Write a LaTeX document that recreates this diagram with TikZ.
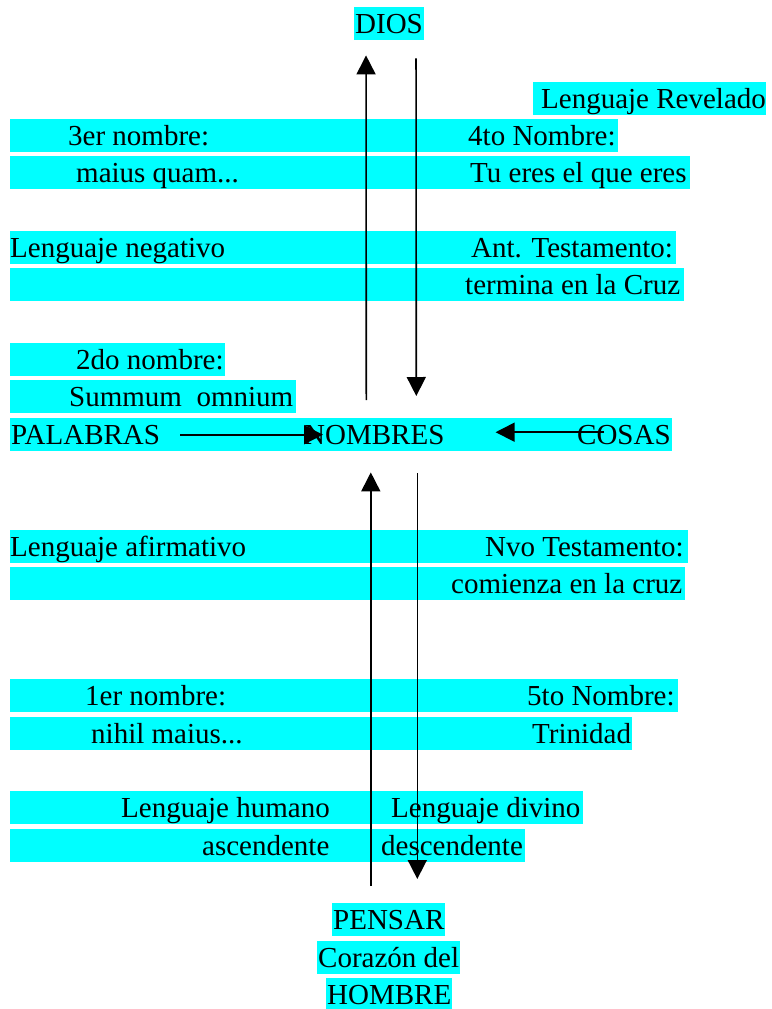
\documentclass[tikz,border=0pt]{standalone}
\usepackage{fontspec}
\setmainfont{Liberation Serif}
\usepackage{tikz}
\usetikzlibrary{arrows.meta}
\definecolor{hl}{RGB}{0,255,255}

\begin{document}
\begin{tikzpicture}[
  x=1pt, y=-1pt,
  font=\fontsize{29pt}{33pt}\selectfont,
  bx/.style ={fill=hl, inner sep=0pt, minimum height=33pt, anchor=north west},
  tx/.style ={inner sep=0pt, text height=26pt, text depth=7pt, anchor=north west},
  tb/.style ={tx, fill=hl, inner xsep=1pt},
  ar/.style ={-{Triangle[length=19pt,width=19pt]}, line width=1.6pt},
]
\useasboundingbox (0,0) rectangle (771,1009);

% ---- cyan bands ----
\node[bx, minimum width=233pt] (rev)   at (533, 82) {};
\node[bx, minimum width=608pt] (row1)  at (10,119) {};
\node[bx, minimum width=680pt] (row2)  at (10,156) {};
\node[bx, minimum width=666pt] (row3)  at (10,231) {};
\node[bx, minimum width=674pt] (row4)  at (10,268) {};
\node[bx, minimum width=215pt] (row5)  at (10,343) {};
\node[bx, minimum width=286pt] (row6)  at (10,380) {};
\node[bx, minimum width=662pt] (row7)  at (10,418) {};
\node[bx, minimum width=678pt] (row8)  at (10,530) {};
\node[bx, minimum width=675pt] (row9)  at (10,567) {};
\node[bx, minimum width=668pt] (row10) at (10,679) {};
\node[bx, minimum width=622pt] (row11) at (10,717) {};
\node[bx, minimum width=573pt] (row12) at (10,791) {};
\node[bx, minimum width=515pt] (row13) at (10,829) {};

% ---- top / bottom ----
\node[tb] (dios)    at (354,  7) {DIOS};
\node[tb] (pensar)  at (332,903) {PENSAR};
\node[tb] (corazon) at (317,941) {Corazón del};
\node[tb] (hombre)  at (326,978) {HOMBRE};

% ---- upper half ----
\node[tx] (revel)    at (541, 82) {Lenguaje Revelado};
\node[tx] (n3)       at ( 68,119) {3er nombre:};
\node[tx] (n4)       at (468,119) {4to Nombre:};
\node[tx] (maius)    at ( 76,156) {maius quam...};
\node[tx] (tueres)   at (470,156) {Tu eres el que eres};
\node[tx] (neg)      at ( 10,231) {Lenguaje negativo};
\node[tx] (ant)      at (471,231) {Ant. Testamento:};
\node[tx] (termina)  at (465,268) {termina en la Cruz};
\node[tx] (n2)       at ( 76,343) {2do nombre:};
\node[tx] (summum)   at ( 69,380) {Summum\ \ omnium};

% ---- middle ----
\node[tx] (palabras) at ( 11,418) {PALABRAS};
\node[tx] (nombres)  at (304,418) {NOMBRES};
\node[tx] (cosas)    at (577,418) {COSAS};

% ---- lower half ----
\node[tx] (afirm)    at ( 10,530) {Lenguaje afirmativo};
\node[tx] (nvo)      at (485,530) {Nvo Testamento:};
\node[tx] (comienza) at (451,567) {comienza en la cruz};
\node[tx] (n1)       at ( 85,679) {1er nombre:};
\node[tx] (n5)       at (527,679) {5to Nombre:};
\node[tx] (nihil)    at ( 91,717) {nihil maius...};
\node[tx] (trin)     at (532,717) {Trinidad};
\node[tx] (humano)   at (121,791) {Lenguaje humano};
\node[tx] (divino)   at (391,791) {Lenguaje divino};
\node[tx] (asc)      at (202,829) {ascendente};
\node[tx] (desc)     at (381,829) {descendente};

% ---- arrows ----
\draw[ar] ([xshift=-8pt,yshift=18pt]nombres.north) -- ([xshift=-23pt,yshift=-15pt]dios.south);
\draw[ar] ([xshift=27pt,yshift=-18pt]dios.south) -- ([xshift=42pt,yshift=22pt]nombres.north);
\draw[ar] ([xshift=-18pt,yshift=17pt]pensar.north) -- ([xshift=-3.5pt,yshift=-21pt]nombres.south);
\draw[ar] ([xshift=43pt,yshift=-22pt]nombres.south) -- ([xshift=28.5pt,yshift=24pt]pensar.north);
\draw[ar] ([xshift=20pt]palabras.east) -- ([xshift=19pt]nombres.west);
\draw[ar] ([xshift=27pt,yshift=2.5pt]cosas.west) -- ([xshift=51pt,yshift=2.5pt]nombres.east);
\end{tikzpicture}
\end{document}
